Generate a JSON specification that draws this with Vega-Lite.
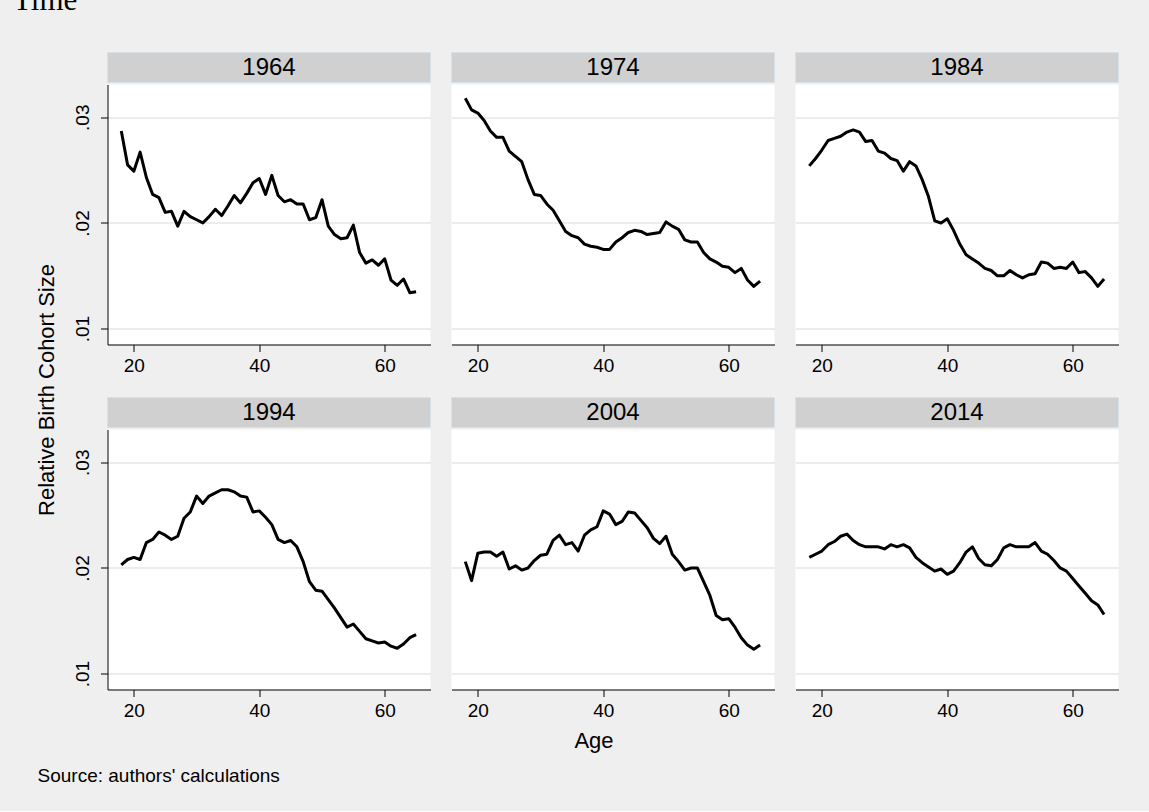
{
"$schema": "https://vega.github.io/schema/vega-lite/v6.json",
"padding": {"left": 12.5, "top": -15.5, "right": 30, "bottom": 25},
"background": "#efefef",
"title": {"text": "Time", "anchor": "start", "font": "Liberation Serif", "fontSize": 31, "fontWeight": "normal", "color": "#000000", "dx": -22.5, "offset": 35.5},
"data": {"values": [
{"year":1964,"age":18,"size":0.0287},{"year":1964,"age":19,"size":0.0255},{"year":1964,"age":20,"size":0.0249},{"year":1964,"age":21,"size":0.0267},{"year":1964,"age":22,"size":0.0243},{"year":1964,"age":23,"size":0.0227},{"year":1964,"age":24,"size":0.0224},{"year":1964,"age":25,"size":0.0210},{"year":1964,"age":26,"size":0.0211},{"year":1964,"age":27,"size":0.0197},{"year":1964,"age":28,"size":0.0211},{"year":1964,"age":29,"size":0.0206},{"year":1964,"age":30,"size":0.0203},{"year":1964,"age":31,"size":0.0200},{"year":1964,"age":32,"size":0.0206},{"year":1964,"age":33,"size":0.0213},{"year":1964,"age":34,"size":0.0207},{"year":1964,"age":35,"size":0.0216},{"year":1964,"age":36,"size":0.0226},{"year":1964,"age":37,"size":0.0219},{"year":1964,"age":38,"size":0.0228},{"year":1964,"age":39,"size":0.0238},{"year":1964,"age":40,"size":0.0242},{"year":1964,"age":41,"size":0.0227},{"year":1964,"age":42,"size":0.0245},{"year":1964,"age":43,"size":0.0226},{"year":1964,"age":44,"size":0.0220},{"year":1964,"age":45,"size":0.0222},{"year":1964,"age":46,"size":0.0218},{"year":1964,"age":47,"size":0.0218},{"year":1964,"age":48,"size":0.0203},{"year":1964,"age":49,"size":0.0205},{"year":1964,"age":50,"size":0.0222},{"year":1964,"age":51,"size":0.0197},{"year":1964,"age":52,"size":0.0189},{"year":1964,"age":53,"size":0.0185},{"year":1964,"age":54,"size":0.0186},{"year":1964,"age":55,"size":0.0198},{"year":1964,"age":56,"size":0.0172},{"year":1964,"age":57,"size":0.0162},{"year":1964,"age":58,"size":0.0165},{"year":1964,"age":59,"size":0.0160},{"year":1964,"age":60,"size":0.0166},{"year":1964,"age":61,"size":0.0146},{"year":1964,"age":62,"size":0.0141},{"year":1964,"age":63,"size":0.0147},{"year":1964,"age":64,"size":0.0134},{"year":1964,"age":65,"size":0.0135},
{"year":1974,"age":18,"size":0.0318},{"year":1974,"age":19,"size":0.0307},{"year":1974,"age":20,"size":0.0304},{"year":1974,"age":21,"size":0.0297},{"year":1974,"age":22,"size":0.0287},{"year":1974,"age":23,"size":0.0281},{"year":1974,"age":24,"size":0.0281},{"year":1974,"age":25,"size":0.0268},{"year":1974,"age":26,"size":0.0263},{"year":1974,"age":27,"size":0.0258},{"year":1974,"age":28,"size":0.0241},{"year":1974,"age":29,"size":0.0227},{"year":1974,"age":30,"size":0.0226},{"year":1974,"age":31,"size":0.0218},{"year":1974,"age":32,"size":0.0212},{"year":1974,"age":33,"size":0.0202},{"year":1974,"age":34,"size":0.0192},{"year":1974,"age":35,"size":0.0188},{"year":1974,"age":36,"size":0.0186},{"year":1974,"age":37,"size":0.0180},{"year":1974,"age":38,"size":0.0178},{"year":1974,"age":39,"size":0.0177},{"year":1974,"age":40,"size":0.0175},{"year":1974,"age":41,"size":0.0175},{"year":1974,"age":42,"size":0.0182},{"year":1974,"age":43,"size":0.0186},{"year":1974,"age":44,"size":0.0191},{"year":1974,"age":45,"size":0.0193},{"year":1974,"age":46,"size":0.0192},{"year":1974,"age":47,"size":0.0189},{"year":1974,"age":48,"size":0.0190},{"year":1974,"age":49,"size":0.0191},{"year":1974,"age":50,"size":0.0201},{"year":1974,"age":51,"size":0.0197},{"year":1974,"age":52,"size":0.0194},{"year":1974,"age":53,"size":0.0184},{"year":1974,"age":54,"size":0.0182},{"year":1974,"age":55,"size":0.0182},{"year":1974,"age":56,"size":0.0172},{"year":1974,"age":57,"size":0.0166},{"year":1974,"age":58,"size":0.0163},{"year":1974,"age":59,"size":0.0159},{"year":1974,"age":60,"size":0.0158},{"year":1974,"age":61,"size":0.0153},{"year":1974,"age":62,"size":0.0157},{"year":1974,"age":63,"size":0.0146},{"year":1974,"age":64,"size":0.0140},{"year":1974,"age":65,"size":0.0145},
{"year":1984,"age":18,"size":0.0254},{"year":1984,"age":19,"size":0.0261},{"year":1984,"age":20,"size":0.0269},{"year":1984,"age":21,"size":0.0278},{"year":1984,"age":22,"size":0.0280},{"year":1984,"age":23,"size":0.0282},{"year":1984,"age":24,"size":0.0286},{"year":1984,"age":25,"size":0.0288},{"year":1984,"age":26,"size":0.0286},{"year":1984,"age":27,"size":0.0277},{"year":1984,"age":28,"size":0.0278},{"year":1984,"age":29,"size":0.0268},{"year":1984,"age":30,"size":0.0266},{"year":1984,"age":31,"size":0.0261},{"year":1984,"age":32,"size":0.0259},{"year":1984,"age":33,"size":0.0249},{"year":1984,"age":34,"size":0.0258},{"year":1984,"age":35,"size":0.0254},{"year":1984,"age":36,"size":0.0241},{"year":1984,"age":37,"size":0.0225},{"year":1984,"age":38,"size":0.0202},{"year":1984,"age":39,"size":0.0200},{"year":1984,"age":40,"size":0.0204},{"year":1984,"age":41,"size":0.0193},{"year":1984,"age":42,"size":0.0180},{"year":1984,"age":43,"size":0.0170},{"year":1984,"age":44,"size":0.0166},{"year":1984,"age":45,"size":0.0162},{"year":1984,"age":46,"size":0.0157},{"year":1984,"age":47,"size":0.0155},{"year":1984,"age":48,"size":0.0150},{"year":1984,"age":49,"size":0.0150},{"year":1984,"age":50,"size":0.0155},{"year":1984,"age":51,"size":0.0151},{"year":1984,"age":52,"size":0.0148},{"year":1984,"age":53,"size":0.0151},{"year":1984,"age":54,"size":0.0152},{"year":1984,"age":55,"size":0.0163},{"year":1984,"age":56,"size":0.0162},{"year":1984,"age":57,"size":0.0157},{"year":1984,"age":58,"size":0.0158},{"year":1984,"age":59,"size":0.0157},{"year":1984,"age":60,"size":0.0163},{"year":1984,"age":61,"size":0.0153},{"year":1984,"age":62,"size":0.0154},{"year":1984,"age":63,"size":0.0148},{"year":1984,"age":64,"size":0.0140},{"year":1984,"age":65,"size":0.0147},
{"year":1994,"age":18,"size":0.0203},{"year":1994,"age":19,"size":0.0208},{"year":1994,"age":20,"size":0.0210},{"year":1994,"age":21,"size":0.0208},{"year":1994,"age":22,"size":0.0224},{"year":1994,"age":23,"size":0.0227},{"year":1994,"age":24,"size":0.0234},{"year":1994,"age":25,"size":0.0231},{"year":1994,"age":26,"size":0.0227},{"year":1994,"age":27,"size":0.0230},{"year":1994,"age":28,"size":0.0247},{"year":1994,"age":29,"size":0.0253},{"year":1994,"age":30,"size":0.0268},{"year":1994,"age":31,"size":0.0261},{"year":1994,"age":32,"size":0.0268},{"year":1994,"age":33,"size":0.0271},{"year":1994,"age":34,"size":0.0274},{"year":1994,"age":35,"size":0.0274},{"year":1994,"age":36,"size":0.0272},{"year":1994,"age":37,"size":0.0268},{"year":1994,"age":38,"size":0.0267},{"year":1994,"age":39,"size":0.0253},{"year":1994,"age":40,"size":0.0254},{"year":1994,"age":41,"size":0.0248},{"year":1994,"age":42,"size":0.0241},{"year":1994,"age":43,"size":0.0227},{"year":1994,"age":44,"size":0.0224},{"year":1994,"age":45,"size":0.0226},{"year":1994,"age":46,"size":0.0220},{"year":1994,"age":47,"size":0.0206},{"year":1994,"age":48,"size":0.0187},{"year":1994,"age":49,"size":0.0179},{"year":1994,"age":50,"size":0.0178},{"year":1994,"age":51,"size":0.0170},{"year":1994,"age":52,"size":0.0162},{"year":1994,"age":53,"size":0.0153},{"year":1994,"age":54,"size":0.0144},{"year":1994,"age":55,"size":0.0147},{"year":1994,"age":56,"size":0.0140},{"year":1994,"age":57,"size":0.0133},{"year":1994,"age":58,"size":0.0131},{"year":1994,"age":59,"size":0.0129},{"year":1994,"age":60,"size":0.0130},{"year":1994,"age":61,"size":0.0126},{"year":1994,"age":62,"size":0.0124},{"year":1994,"age":63,"size":0.0128},{"year":1994,"age":64,"size":0.0134},{"year":1994,"age":65,"size":0.0137},
{"year":2004,"age":18,"size":0.0206},{"year":2004,"age":19,"size":0.0188},{"year":2004,"age":20,"size":0.0214},{"year":2004,"age":21,"size":0.0215},{"year":2004,"age":22,"size":0.0215},{"year":2004,"age":23,"size":0.0211},{"year":2004,"age":24,"size":0.0215},{"year":2004,"age":25,"size":0.0199},{"year":2004,"age":26,"size":0.0202},{"year":2004,"age":27,"size":0.0198},{"year":2004,"age":28,"size":0.0200},{"year":2004,"age":29,"size":0.0207},{"year":2004,"age":30,"size":0.0212},{"year":2004,"age":31,"size":0.0213},{"year":2004,"age":32,"size":0.0226},{"year":2004,"age":33,"size":0.0231},{"year":2004,"age":34,"size":0.0222},{"year":2004,"age":35,"size":0.0224},{"year":2004,"age":36,"size":0.0216},{"year":2004,"age":37,"size":0.0231},{"year":2004,"age":38,"size":0.0236},{"year":2004,"age":39,"size":0.0239},{"year":2004,"age":40,"size":0.0254},{"year":2004,"age":41,"size":0.0251},{"year":2004,"age":42,"size":0.0241},{"year":2004,"age":43,"size":0.0244},{"year":2004,"age":44,"size":0.0253},{"year":2004,"age":45,"size":0.0252},{"year":2004,"age":46,"size":0.0245},{"year":2004,"age":47,"size":0.0238},{"year":2004,"age":48,"size":0.0228},{"year":2004,"age":49,"size":0.0223},{"year":2004,"age":50,"size":0.0230},{"year":2004,"age":51,"size":0.0213},{"year":2004,"age":52,"size":0.0206},{"year":2004,"age":53,"size":0.0198},{"year":2004,"age":54,"size":0.0200},{"year":2004,"age":55,"size":0.0200},{"year":2004,"age":56,"size":0.0187},{"year":2004,"age":57,"size":0.0174},{"year":2004,"age":58,"size":0.0155},{"year":2004,"age":59,"size":0.0151},{"year":2004,"age":60,"size":0.0152},{"year":2004,"age":61,"size":0.0144},{"year":2004,"age":62,"size":0.0134},{"year":2004,"age":63,"size":0.0127},{"year":2004,"age":64,"size":0.0123},{"year":2004,"age":65,"size":0.0127},
{"year":2014,"age":18,"size":0.0210},{"year":2014,"age":19,"size":0.0213},{"year":2014,"age":20,"size":0.0216},{"year":2014,"age":21,"size":0.0222},{"year":2014,"age":22,"size":0.0225},{"year":2014,"age":23,"size":0.0230},{"year":2014,"age":24,"size":0.0232},{"year":2014,"age":25,"size":0.0226},{"year":2014,"age":26,"size":0.0222},{"year":2014,"age":27,"size":0.0220},{"year":2014,"age":28,"size":0.0220},{"year":2014,"age":29,"size":0.0220},{"year":2014,"age":30,"size":0.0218},{"year":2014,"age":31,"size":0.0222},{"year":2014,"age":32,"size":0.0220},{"year":2014,"age":33,"size":0.0222},{"year":2014,"age":34,"size":0.0219},{"year":2014,"age":35,"size":0.0210},{"year":2014,"age":36,"size":0.0205},{"year":2014,"age":37,"size":0.0201},{"year":2014,"age":38,"size":0.0197},{"year":2014,"age":39,"size":0.0199},{"year":2014,"age":40,"size":0.0194},{"year":2014,"age":41,"size":0.0197},{"year":2014,"age":42,"size":0.0205},{"year":2014,"age":43,"size":0.0215},{"year":2014,"age":44,"size":0.0220},{"year":2014,"age":45,"size":0.0209},{"year":2014,"age":46,"size":0.0203},{"year":2014,"age":47,"size":0.0202},{"year":2014,"age":48,"size":0.0208},{"year":2014,"age":49,"size":0.0219},{"year":2014,"age":50,"size":0.0222},{"year":2014,"age":51,"size":0.0220},{"year":2014,"age":52,"size":0.0220},{"year":2014,"age":53,"size":0.0220},{"year":2014,"age":54,"size":0.0224},{"year":2014,"age":55,"size":0.0216},{"year":2014,"age":56,"size":0.0213},{"year":2014,"age":57,"size":0.0207},{"year":2014,"age":58,"size":0.0200},{"year":2014,"age":59,"size":0.0197},{"year":2014,"age":60,"size":0.0190},{"year":2014,"age":61,"size":0.0183},{"year":2014,"age":62,"size":0.0176},{"year":2014,"age":63,"size":0.0169},{"year":2014,"age":64,"size":0.0165},{"year":2014,"age":65,"size":0.0156}
]},
"vconcat": [
{
"spacing": 10,
"title": {"text": "Source: authors' calculations", "orient": "bottom", "anchor": "start", "font": "Liberation Sans", "fontSize": 19, "fontWeight": "normal", "color": "#000000", "dx": 2, "offset": 15},
"hconcat": [
{
 "width": 1, "height": 674,
 "mark": {"type": "point", "opacity": 0},
 "encoding": {"y": {"field": "size", "type": "quantitative", "axis": {"title": "Relative Birth Cohort Size", "labels": false, "ticks": false, "domain": false, "grid": false, "titlePadding": 0}}}
},
{
 "spacing": 21,
 "vconcat": [
 {"spacing": 19, "hconcat": [
  {"spacing": 1, "vconcat": [
   {"width": 323, "height": 30,
    "transform": [{"filter": {"field": "year", "equal": 1964}}, {"aggregate": [{"op": "count", "as": "n"}], "groupby": ["year"]}],
    "encoding": {"x": {"field": "year", "type": "nominal", "axis": null, "scale": {"paddingInner": 0, "paddingOuter": 0}}},
    "layer": [
     {"mark": {"type": "rect", "fill": "#d0d0d0", "stroke": "#d9e1e8", "strokeWidth": 1}},
     {"mark": {"type": "text", "font": "Liberation Sans", "fontSize": 24, "color": "#000000", "baseline": "middle"}, "encoding": {"text": {"field": "year", "type": "nominal"}}}
    ]},
   {"width": 323, "height": 260, "view": {"fill": "white", "stroke": null},
    "transform": [{"filter": {"field": "year", "equal": 1964}}],
    "mark": {"type": "line", "color": "#000000", "strokeWidth": 3, "strokeJoin": "round"},
    "encoding": {
     "x": {"field": "age", "type": "quantitative", "scale": {"domain": [15.8, 67.3], "nice": false, "zero": false}, "axis": {"values": [20, 40, 60], "title": null, "grid": false}},
     "y": {"field": "size", "type": "quantitative", "scale": {"domain": [0.0085, 0.0331], "nice": false, "zero": false}, "axis": {"values": [0.01, 0.02, 0.03], "labelExpr": "replace(format(datum.value, '.2f'), '0.', '.')", "labelAngle": -90, "labelAlign": "center", "labelBaseline": "bottom", "labelPadding": 8.5, "title": null}}
    }}
  ]},
  {"spacing": 1, "vconcat": [
   {"width": 323, "height": 30,
    "transform": [{"filter": {"field": "year", "equal": 1974}}, {"aggregate": [{"op": "count", "as": "n"}], "groupby": ["year"]}],
    "encoding": {"x": {"field": "year", "type": "nominal", "axis": null, "scale": {"paddingInner": 0, "paddingOuter": 0}}},
    "layer": [
     {"mark": {"type": "rect", "fill": "#d0d0d0", "stroke": "#d9e1e8", "strokeWidth": 1}},
     {"mark": {"type": "text", "font": "Liberation Sans", "fontSize": 24, "color": "#000000", "baseline": "middle"}, "encoding": {"text": {"field": "year", "type": "nominal"}}}
    ]},
   {"width": 323, "height": 260, "view": {"fill": "white", "stroke": null},
    "transform": [{"filter": {"field": "year", "equal": 1974}}],
    "mark": {"type": "line", "color": "#000000", "strokeWidth": 3, "strokeJoin": "round"},
    "encoding": {
     "x": {"field": "age", "type": "quantitative", "scale": {"domain": [15.8, 67.3], "nice": false, "zero": false}, "axis": {"values": [20, 40, 60], "title": null, "grid": false}},
     "y": {"field": "size", "type": "quantitative", "scale": {"domain": [0.0085, 0.0331], "nice": false, "zero": false}, "axis": {"values": [0.01, 0.02, 0.03], "labels": false, "ticks": false, "domain": false, "title": null}}
    }}
  ]},
  {"spacing": 1, "vconcat": [
   {"width": 323, "height": 30,
    "transform": [{"filter": {"field": "year", "equal": 1984}}, {"aggregate": [{"op": "count", "as": "n"}], "groupby": ["year"]}],
    "encoding": {"x": {"field": "year", "type": "nominal", "axis": null, "scale": {"paddingInner": 0, "paddingOuter": 0}}},
    "layer": [
     {"mark": {"type": "rect", "fill": "#d0d0d0", "stroke": "#d9e1e8", "strokeWidth": 1}},
     {"mark": {"type": "text", "font": "Liberation Sans", "fontSize": 24, "color": "#000000", "baseline": "middle"}, "encoding": {"text": {"field": "year", "type": "nominal"}}}
    ]},
   {"width": 323, "height": 260, "view": {"fill": "white", "stroke": null},
    "transform": [{"filter": {"field": "year", "equal": 1984}}],
    "mark": {"type": "line", "color": "#000000", "strokeWidth": 3, "strokeJoin": "round"},
    "encoding": {
     "x": {"field": "age", "type": "quantitative", "scale": {"domain": [15.8, 67.3], "nice": false, "zero": false}, "axis": {"values": [20, 40, 60], "title": null, "grid": false}},
     "y": {"field": "size", "type": "quantitative", "scale": {"domain": [0.0085, 0.0331], "nice": false, "zero": false}, "axis": {"values": [0.01, 0.02, 0.03], "labels": false, "ticks": false, "domain": false, "title": null}}
    }}
  ]}
 ]},
 {"spacing": 19, "hconcat": [
  {"spacing": 1, "vconcat": [
   {"width": 323, "height": 30,
    "transform": [{"filter": {"field": "year", "equal": 1994}}, {"aggregate": [{"op": "count", "as": "n"}], "groupby": ["year"]}],
    "encoding": {"x": {"field": "year", "type": "nominal", "axis": null, "scale": {"paddingInner": 0, "paddingOuter": 0}}},
    "layer": [
     {"mark": {"type": "rect", "fill": "#d0d0d0", "stroke": "#d9e1e8", "strokeWidth": 1}},
     {"mark": {"type": "text", "font": "Liberation Sans", "fontSize": 24, "color": "#000000", "baseline": "middle"}, "encoding": {"text": {"field": "year", "type": "nominal"}}}
    ]},
   {"width": 323, "height": 260, "view": {"fill": "white", "stroke": null},
    "transform": [{"filter": {"field": "year", "equal": 1994}}],
    "mark": {"type": "line", "color": "#000000", "strokeWidth": 3, "strokeJoin": "round"},
    "encoding": {
     "x": {"field": "age", "type": "quantitative", "scale": {"domain": [15.8, 67.3], "nice": false, "zero": false}, "axis": {"values": [20, 40, 60], "title": null, "grid": false}},
     "y": {"field": "size", "type": "quantitative", "scale": {"domain": [0.0085, 0.0331], "nice": false, "zero": false}, "axis": {"values": [0.01, 0.02, 0.03], "labelExpr": "replace(format(datum.value, '.2f'), '0.', '.')", "labelAngle": -90, "labelAlign": "center", "labelBaseline": "bottom", "labelPadding": 8.5, "title": null}}
    }}
  ]},
  {"spacing": 1, "vconcat": [
   {"width": 323, "height": 30,
    "transform": [{"filter": {"field": "year", "equal": 2004}}, {"aggregate": [{"op": "count", "as": "n"}], "groupby": ["year"]}],
    "encoding": {"x": {"field": "year", "type": "nominal", "axis": null, "scale": {"paddingInner": 0, "paddingOuter": 0}}},
    "layer": [
     {"mark": {"type": "rect", "fill": "#d0d0d0", "stroke": "#d9e1e8", "strokeWidth": 1}},
     {"mark": {"type": "text", "font": "Liberation Sans", "fontSize": 24, "color": "#000000", "baseline": "middle"}, "encoding": {"text": {"field": "year", "type": "nominal"}}}
    ]},
   {"width": 323, "height": 260, "view": {"fill": "white", "stroke": null},
    "transform": [{"filter": {"field": "year", "equal": 2004}}],
    "mark": {"type": "line", "color": "#000000", "strokeWidth": 3, "strokeJoin": "round"},
    "encoding": {
     "x": {"field": "age", "type": "quantitative", "scale": {"domain": [15.8, 67.3], "nice": false, "zero": false}, "axis": {"values": [20, 40, 60], "title": "Age", "titleX": 142, "titlePadding": 10, "grid": false}},
     "y": {"field": "size", "type": "quantitative", "scale": {"domain": [0.0085, 0.0331], "nice": false, "zero": false}, "axis": {"values": [0.01, 0.02, 0.03], "labels": false, "ticks": false, "domain": false, "title": null}}
    }}
  ]},
  {"spacing": 1, "vconcat": [
   {"width": 323, "height": 30,
    "transform": [{"filter": {"field": "year", "equal": 2014}}, {"aggregate": [{"op": "count", "as": "n"}], "groupby": ["year"]}],
    "encoding": {"x": {"field": "year", "type": "nominal", "axis": null, "scale": {"paddingInner": 0, "paddingOuter": 0}}},
    "layer": [
     {"mark": {"type": "rect", "fill": "#d0d0d0", "stroke": "#d9e1e8", "strokeWidth": 1}},
     {"mark": {"type": "text", "font": "Liberation Sans", "fontSize": 24, "color": "#000000", "baseline": "middle"}, "encoding": {"text": {"field": "year", "type": "nominal"}}}
    ]},
   {"width": 323, "height": 260, "view": {"fill": "white", "stroke": null},
    "transform": [{"filter": {"field": "year", "equal": 2014}}],
    "mark": {"type": "line", "color": "#000000", "strokeWidth": 3, "strokeJoin": "round"},
    "encoding": {
     "x": {"field": "age", "type": "quantitative", "scale": {"domain": [15.8, 67.3], "nice": false, "zero": false}, "axis": {"values": [20, 40, 60], "title": null, "grid": false}},
     "y": {"field": "size", "type": "quantitative", "scale": {"domain": [0.0085, 0.0331], "nice": false, "zero": false}, "axis": {"values": [0.01, 0.02, 0.03], "labels": false, "ticks": false, "domain": false, "title": null}}
    }}
  ]}
 ]}
 ]
}
]
}
],
"config": {
 "view": {"stroke": null},
 "font": "Liberation Sans",
 "axis": {"minExtent": 0, "labelFont": "Liberation Sans", "labelFontSize": 19, "labelColor": "#000000", "domainColor": "#000000", "domainWidth": 1, "tickColor": "#000000", "tickWidth": 1, "tickSize": 7, "labelPadding": 5, "titleFont": "Liberation Sans", "titleFontSize": 22, "titleFontWeight": "normal", "titleColor": "#000000", "titlePadding": 7, "gridColor": "#e6e6e6", "gridWidth": 1.5}
}
}
